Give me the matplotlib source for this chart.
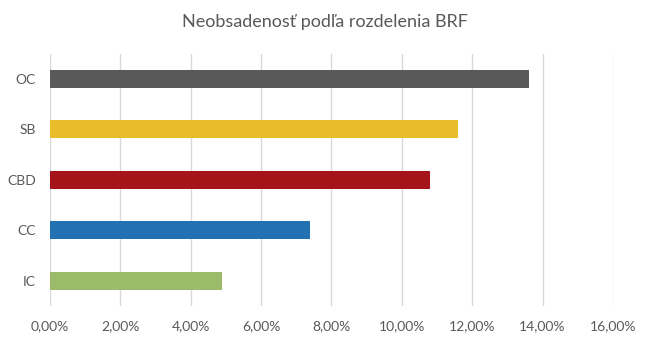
import matplotlib
matplotlib.use('Agg')
import matplotlib.pyplot as plt
from matplotlib.ticker import FuncFormatter

# Unoccupancy share per category
categories = ['IC', 'CC', 'CBD', 'SB', 'OC']
values = [4.9, 7.4, 10.8, 11.6, 13.6]
colors = ['#9BBB6A', '#2271B3', '#A51419', '#E9BC2C', '#595959']
xticks = [0, 2, 4, 6, 8, 10, 12, 14, 16]

plt.rcParams['font.family'] = ['Lato', 'DejaVu Sans']
text_color = '#595959'

fig = plt.figure(figsize=(6.55, 3.46), dpi=100)
ax = fig.add_axes([0.0763, 0.1156, 0.8595, 0.7291])

ax.barh(categories, values, height=0.36, color=colors, zorder=3)

ax.set_xlim(0, 16)
ax.set_ylim(-0.5, len(categories) - 0.5)
ax.set_xticks(xticks)
ax.xaxis.set_major_formatter(FuncFormatter(lambda v, p: f'{v:.2f}%'.replace('.', ',')))
ax.grid(axis='x', color='#D9D9D9', linewidth=1, zorder=0)
for s in ax.spines.values():
    s.set_visible(False)
ax.tick_params(axis='both', length=0, colors=text_color, labelsize=10)
ax.tick_params(axis='x', pad=10)
ax.tick_params(axis='y', pad=10)

fig.suptitle('Neobsadenosť podľa rozdelenia BRF', x=0.496, y=0.96,
             fontsize=13, color=text_color)

fig.savefig('out.png', dpi=100)
